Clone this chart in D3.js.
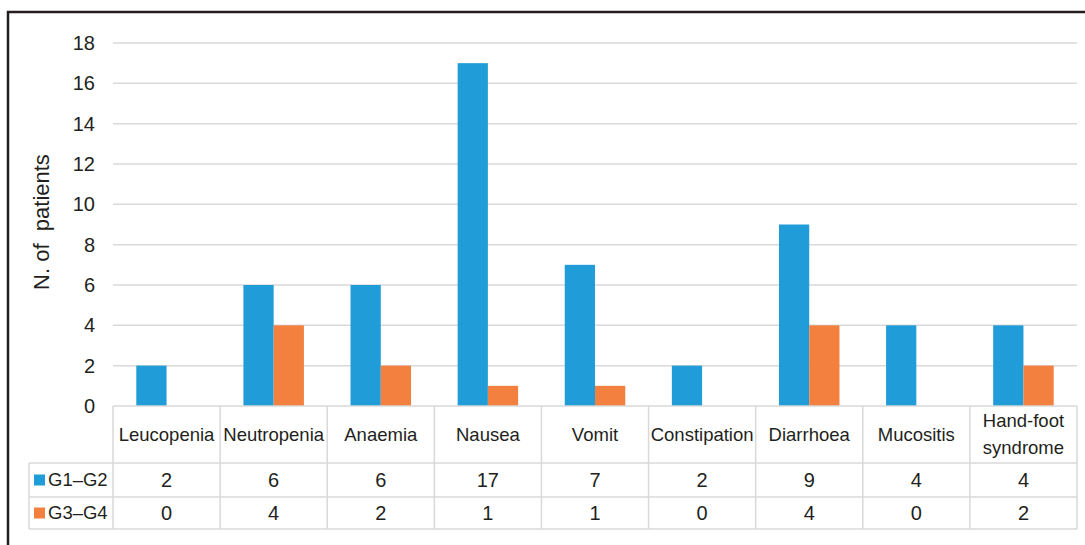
<!DOCTYPE html>
<html>
<head>
<meta charset="utf-8">
<script src="https://cdn.jsdelivr.net/npm/d3@7"></script>
<style>
  body { margin: 0; background: #fff; }
  text { font-family: "Liberation Sans", Arial, sans-serif; fill: #231f20; }
</style>
</head>
<body>
<div id="chart"></div>
<script>
// data
var categories = ["Leucopenia", "Neutropenia", "Anaemia", "Nausea", "Vomit",
                  "Constipation", "Diarrhoea", "Mucositis", "Hand-foot syndrome"]
var seriesNames = ["G1\u2013G2", "G3\u2013G4"]
var g12 = [2, 6, 6, 17, 7, 2, 9, 4, 4]
var g34 = [0, 4, 2, 1, 1, 0, 4, 0, 2]
var yTicks = [0, 2, 4, 6, 8, 10, 12, 14, 16, 18]
var colors = ["#209dd8", "#f4803f"]

var width = 1085, height = 545
var plot = {left: 113, right: 1077, top: 43, bottom: 406}
var rowY = [406, 463, 497, 529]   // table row boundaries
var legendLeft = 29
var grid = "#d9d9d9"

var svg = d3.select("#chart").append("svg")
  .attr("width", width)
  .attr("height", height)

// outer frame (only top & left show in the crop)
svg.append("path")
  .attr("d", "M8," + (height + 5) + "V12H" + (width + 5))
  .attr("fill", "none")
  .attr("stroke", "#231f20")
  .attr("stroke-width", 2.5)

var x = d3.scaleBand()
  .domain(categories)
  .range([plot.left, plot.right])

var xs = d3.scaleBand()
  .domain(seriesNames)
  .range([0, x.bandwidth()])
  .paddingOuter(0.77)

var y = d3.scaleLinear()
  .domain([0, 18])
  .range([plot.bottom, plot.top])

// gridlines
svg.append("g").selectAll("line")
  .data(yTicks.slice(1))
  .join("line")
    .attr("x1", plot.left)
    .attr("x2", plot.right)
    .attr("y1", d => y(d))
    .attr("y2", d => y(d))
    .attr("stroke", grid)
    .attr("stroke-width", 1.5)

// y axis labels
var yAxis = svg.append("g")
  .attr("transform", "translate(95,0)")
  .call(d3.axisLeft(y).tickValues(yTicks).tickSize(0).tickPadding(0))
yAxis.select(".domain").remove()
yAxis.selectAll("text")
  .style("font-family", "'Liberation Sans', Arial, sans-serif")
  .style("font-size", "20px")
  .attr("fill", "#231f20")

svg.append("text")
  .attr("transform", "translate(49,222) rotate(-90)")
  .attr("text-anchor", "middle")
  .style("font-size", "22px")
  .attr("xml:space", "preserve")
  .text("N. of  patients")

// bars
var series = [g12, g34]
series.forEach(function(vals, si) {
  svg.append("g").selectAll("rect")
    .data(vals)
    .join("rect")
      .attr("x", (d, i) => x(categories[i]) + xs(seriesNames[si]))
      .attr("width", xs.bandwidth())
      .attr("y", d => y(d))
      .attr("height", d => y(0) - y(d))
      .attr("fill", colors[si])
})

// data table
var tbl = svg.append("g").attr("stroke", grid).attr("stroke-width", 1.5)
tbl.append("line")
  .attr("x1", plot.left).attr("x2", plot.right)
  .attr("y1", rowY[0]).attr("y2", rowY[0])
rowY.slice(1).forEach(function(ry) {
  tbl.append("line")
    .attr("x1", legendLeft).attr("x2", plot.right)
    .attr("y1", ry).attr("y2", ry)
})
tbl.append("line")
  .attr("x1", legendLeft).attr("x2", legendLeft)
  .attr("y1", rowY[1]).attr("y2", rowY[3])
var edges = categories.map(c => x(c)).concat([plot.right])
tbl.selectAll(".vline")
  .data(edges)
  .join("line")
    .attr("x1", d => d).attr("x2", d => d)
    .attr("y1", rowY[0]).attr("y2", rowY[3])

// category labels
categories.forEach(function(c) {
  var cx = x(c) + x.bandwidth() / 2
  var words = c == "Hand-foot syndrome" ? ["Hand-foot", "syndrome"] : [c]
  var cy = (rowY[0] + rowY[1]) / 2
  var t = svg.append("text")
    .attr("text-anchor", "middle")
    .style("font-size", "18.5px")
  words.forEach(function(w, wi) {
    t.append("tspan")
      .attr("x", cx)
      .attr("y", cy + (wi - (words.length - 1) / 2) * 27)
      .attr("dy", "0.35em")
      .text(w)
  })
})

// value rows + legend keys
series.forEach(function(vals, si) {
  var cy = (rowY[si + 1] + rowY[si + 2]) / 2
  svg.append("rect")
    .attr("x", 34).attr("y", cy - 5.5)
    .attr("width", 11).attr("height", 11)
    .attr("fill", colors[si])
  svg.append("text")
    .attr("x", 48).attr("y", cy).attr("dy", "0.35em")
    .style("font-size", "18.5px")
    .text(seriesNames[si])
  svg.append("g").selectAll("text")
    .data(vals)
    .join("text")
      .attr("x", (d, i) => x(categories[i]) + x.bandwidth() / 2)
      .attr("y", cy)
      .attr("dy", "0.35em")
      .attr("text-anchor", "middle")
      .style("font-size", "20px")
      .text(d => d)
})
</script>
</body>
</html>
